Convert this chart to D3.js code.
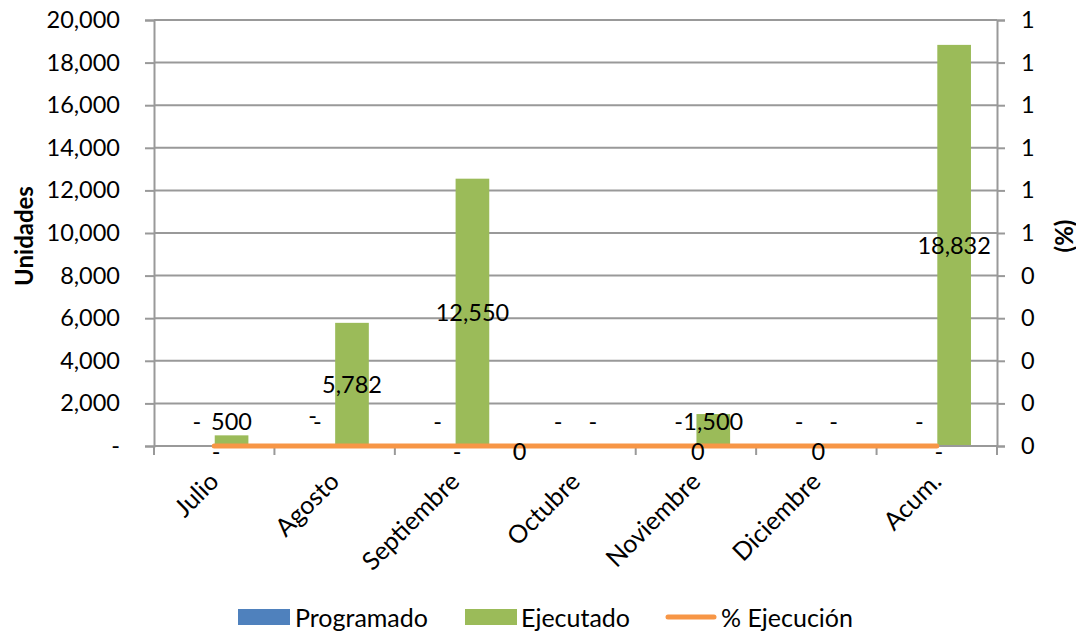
<!DOCTYPE html>
<html>
<head>
<meta charset="utf-8">
<script src="https://cdn.jsdelivr.net/npm/d3@7"></script>
<style>
  html, body { margin: 0; padding: 0; background: #fff; }
  svg text { font-family: Lato, "Open Sans", sans-serif; fill: #000; }
</style>
</head>
<body>
<svg id="chart" width="1076" height="635"></svg>
<script>
// ---- data ----
const categories = ["Julio", "Agosto", "Septiembre", "Octubre", "Noviembre", "Diciembre", "Acum."];
const seriesNames = ["Programado", "Ejecutado"];
const programado = [0, 0, 0, 0, 0, 0, 0];
const ejecutado = [500, 5782, 12550, 0, 1500, 0, 18832];
const ejecucionPct = [0, 0, 0, 0, 0, 0, 0];
const pctLabels = ["-", "-", "-", "0", "0", "0", "-"];
const leftTicks = [0, 2000, 4000, 6000, 8000, 10000, 12000, 14000, 16000, 18000, 20000];
const leftTickLabels = ["-", "2,000", "4,000", "6,000", "8,000", "10,000", "12,000", "14,000", "16,000", "18,000", "20,000"];
const rightTicks = [0, 0.1, 0.2, 0.3, 0.4, 0.5, 0.6, 0.7, 0.8, 0.9, 1];
const rightTickLabels = ["0", "0", "0", "0", "0", "1", "1", "1", "1", "1", "1"];

// ---- layout ----
const colors = { Programado: "#4f81bd", Ejecutado: "#9bbb59", line: "#f79646" };
const plot = { left: 154, right: 997, top: 20, bottom: 446 };
const fontSize = 23.5;
const textSize = 25;
const gridColor = "#999999";

const svg = d3.select("#chart");

const x0 = d3.scaleBand().domain(categories).range([plot.left, plot.right])
  .paddingInner(0.415).paddingOuter(0.2075);
const x1 = d3.scaleBand().domain(seriesNames).range([0, x0.bandwidth()]).padding(0.03);
const y = d3.scaleLinear().domain([0, 20000]).range([plot.bottom, plot.top]);
const y2 = d3.scaleLinear().domain([0, 1]).range([plot.bottom, plot.top]);
const step = x0.step();
const cx = c => x0(c) + x0.bandwidth() / 2;

// gridlines
svg.append("g").selectAll("line").data(leftTicks.slice(1)).join("line")
  .attr("x1", plot.left).attr("x2", plot.right)
  .attr("y1", d => y(d)).attr("y2", d => y(d))
  .attr("stroke", gridColor).attr("stroke-width", 2);

// bars
const rows = categories.map((c, i) => ({ cat: c, Programado: programado[i], Ejecutado: ejecutado[i] }));
const barG = svg.append("g");
rows.forEach(r => {
  seriesNames.forEach(s => {
    barG.append("rect")
      .attr("x", x0(r.cat) + x1(s))
      .attr("y", y(r[s]))
      .attr("width", x1.bandwidth())
      .attr("height", y(0) - y(r[s]))
      .attr("fill", colors[s]);
  });
});

// left axis
const leftAxis = d3.axisLeft(y).tickValues(leftTicks)
  .tickFormat((d, i) => leftTickLabels[i]).tickSizeOuter(0).tickSize(9).tickPadding(25);
const gl = svg.append("g").attr("transform", `translate(${plot.left},0)`).call(leftAxis);
gl.select(".domain").attr("stroke", gridColor).attr("stroke-width", 2);
gl.selectAll(".tick line").attr("stroke", gridColor).attr("stroke-width", 2);
gl.selectAll(".tick text").attr("font-size", fontSize).attr("font-family", "Lato").attr("fill", "#000");

// right axis
const rightAxis = d3.axisRight(y2).tickValues(rightTicks)
  .tickFormat((d, i) => rightTickLabels[i]).tickSizeOuter(0).tickSize(8).tickPadding(16);
const gr = svg.append("g").attr("transform", `translate(${plot.right},0)`).call(rightAxis);
gr.select(".domain").attr("stroke", gridColor).attr("stroke-width", 2);
gr.selectAll(".tick line").attr("stroke", gridColor).attr("stroke-width", 2);
gr.selectAll(".tick text").attr("font-size", fontSize).attr("font-family", "Lato").attr("fill", "#000");

// bottom axis
svg.append("line").attr("x1", plot.left).attr("x2", plot.right)
  .attr("y1", y(0)).attr("y2", y(0)).attr("stroke", gridColor).attr("stroke-width", 2);
const bounds = categories.map(c => x0(c) - (step - x0.bandwidth()) / 2).concat([plot.right]);
svg.append("g").selectAll("line").data(bounds).join("line")
  .attr("x1", d => d).attr("x2", d => d)
  .attr("y1", y(0)).attr("y2", y(0) + 9)
  .attr("stroke", gridColor).attr("stroke-width", 2);

// category labels
svg.append("g").selectAll("text").data(categories).join("text")
  .attr("transform", c => `translate(${cx(c) - 1},${y(0) + 30}) rotate(-45)`)
  .attr("text-anchor", "end")
  .attr("dominant-baseline", "central")
  .attr("font-size", textSize)
  .text(c => c);

// % line
const line = d3.line().x((d, i) => cx(categories[i])).y(d => y2(d));
svg.append("path").datum(ejecucionPct).attr("d", line)
  .attr("fill", "none").attr("stroke", colors.line).attr("stroke-width", 5)
  .attr("stroke-linecap", "round");

// data labels
const fmt = v => v === 0 ? "-" : d3.format(",")(v);
const labelG = svg.append("g").attr("font-size", fontSize);
const labelY = v => Math.min(y(v / 2), y(0) - 25);
rows.forEach(r => {
  seriesNames.forEach(s => {
    labelG.append("text")
      .attr("x", x0(r.cat) + x1(s) + x1.bandwidth() / 2)
      .attr("y", labelY(r[s]))
      .attr("text-anchor", "middle")
      .attr("dominant-baseline", "central")
      .text(fmt(r[s]));
  });
});
// % labels (a couple were moved by hand in the original)
const nudges = { "Agosto": [-24, -36], "Octubre": [-58, 0] };
categories.forEach((c, i) => {
  const n = nudges[c] || [0, 0];
  labelG.append("text")
    .attr("x", cx(c) + 2 + n[0])
    .attr("y", y2(ejecucionPct[i]) + 5 + n[1])
    .attr("text-anchor", "middle")
    .attr("dominant-baseline", "central")
    .text(pctLabels[i]);
});

// axis titles
svg.append("text").attr("transform", "translate(23,236) rotate(-90)")
  .attr("text-anchor", "middle").attr("dominant-baseline", "central")
  .attr("font-size", 24).attr("font-weight", "bold").text("Unidades");
svg.append("text").attr("transform", "translate(1063,236) rotate(-90)")
  .attr("text-anchor", "middle").attr("dominant-baseline", "central")
  .attr("font-size", 24).attr("font-weight", "bold").text("(%)");

// legend
const lg = svg.append("g").attr("font-size", textSize);
const legendY = 617;
lg.append("rect").attr("x", 238).attr("y", legendY - 8).attr("width", 52).attr("height", 16).attr("fill", colors.Programado);
lg.append("text").attr("x", 295).attr("y", legendY).attr("dominant-baseline", "central").text("Programado");
lg.append("rect").attr("x", 465).attr("y", legendY - 8).attr("width", 52).attr("height", 16).attr("fill", colors.Ejecutado);
lg.append("text").attr("x", 521).attr("y", legendY).attr("dominant-baseline", "central").text("Ejecutado");
lg.append("line").attr("x1", 668).attr("x2", 714).attr("y1", legendY).attr("y2", legendY)
  .attr("stroke", colors.line).attr("stroke-width", 5).attr("stroke-linecap", "round");
lg.append("text").attr("x", 721).attr("y", legendY).attr("dominant-baseline", "central").text("% Ejecución");
</script>
</body>
</html>
